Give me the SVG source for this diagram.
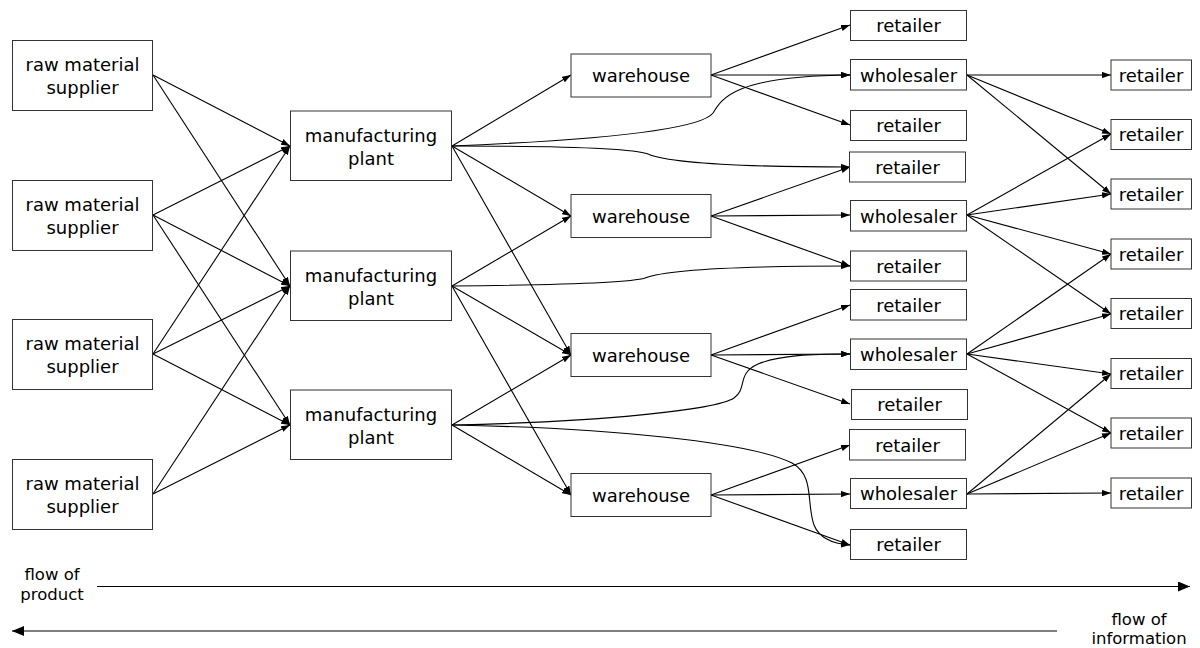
<svg xmlns="http://www.w3.org/2000/svg" width="1200" height="648" viewBox="0 0 1200 648">
  <defs>
    <marker id="arr" viewBox="0 0 10 7" refX="10" refY="3.5" markerWidth="9" markerHeight="6.5" markerUnits="userSpaceOnUse" orient="auto">
      <path d="M0,0 L10,3.5 L0,7 z" fill="#000"/>
    </marker>
    <marker id="arrBig" viewBox="0 0 12 10" refX="12" refY="5" markerWidth="12" markerHeight="10" markerUnits="userSpaceOnUse" orient="auto">
      <path d="M0,0 L12,5 L0,10 z" fill="#000"/>
    </marker>
  </defs>
  <style>
    .box { fill: #fff; stroke: #333; stroke-width: 1; }
    .lbl { font-family: "DejaVu Sans", "Liberation Sans", sans-serif; font-size: 18px; fill: #000; text-anchor: middle; }
    .leg { font-family: "DejaVu Sans", "Liberation Sans", sans-serif; font-size: 16.5px; fill: #000; text-anchor: middle; }
    .edge { fill: none; stroke: #000; stroke-width: 1.1; marker-end: url(#arr); }
    .flow { fill: none; stroke: #000; stroke-width: 1.2; marker-end: url(#arrBig); }
  </style>

  <rect width="1200" height="648" fill="#fff"/>

  <!-- connectors -->
  <g id="connectors">
    <!-- suppliers to plants -->
    <path class="edge" d="M153,75 L290,146"/>
    <path class="edge" d="M153,75 L290,286"/>
    <path class="edge" d="M153,215 L290,146"/>
    <path class="edge" d="M153,215 L290,286"/>
    <path class="edge" d="M153,215 L290,425"/>
    <path class="edge" d="M153,354 L290,146"/>
    <path class="edge" d="M153,354 L290,286"/>
    <path class="edge" d="M153,354 L290,425"/>
    <path class="edge" d="M153,494 L290,286"/>
    <path class="edge" d="M153,494 L290,425"/>

    <!-- plants to warehouses -->
    <path class="edge" d="M452,146 L571,75"/>
    <path class="edge" d="M452,146 L571,216"/>
    <path class="edge" d="M452,146 L571,355"/>
    <path class="edge" d="M452,286 L571,216"/>
    <path class="edge" d="M452,286 L571,355"/>
    <path class="edge" d="M452,286 L571,495"/>
    <path class="edge" d="M452,425 L571,355"/>
    <path class="edge" d="M452,425 L571,495"/>

    <!-- plants directly to wholesalers / retailers -->
    <path class="edge" d="M452,146 C600,140 700,130 713,113 C722,98 735,76 850,75"/>
    <path class="edge" d="M452,146 C560,146 632,148 648,154 C662,160 700,167 850,167"/>
    <path class="edge" d="M452,286 C560,285 630,283 645,278 C660,272 700,266 850,266"/>
    <path class="edge" d="M452,425 C600,422 715,410 734,398 C748,388 736,374 758,364 C780,355 812,354 850,354"/>
    <path class="edge" d="M452,425 C610,428 750,442 792,463 C815,476 806,502 814,525 C820,540 836,544 850,545"/>

    <!-- warehouses to wholesalers / retailers -->
    <path class="edge" d="M711,75 L850,25"/>
    <path class="edge" d="M711,75 L850,75"/>
    <path class="edge" d="M711,75 L850,125"/>
    <path class="edge" d="M711,216 L850,167"/>
    <path class="edge" d="M711,216 L850,215"/>
    <path class="edge" d="M711,216 L850,266"/>
    <path class="edge" d="M711,355 L850,305"/>
    <path class="edge" d="M711,355 L850,354"/>
    <path class="edge" d="M711,355 L850,404"/>
    <path class="edge" d="M711,495 L850,445"/>
    <path class="edge" d="M711,495 L850,494"/>
    <path class="edge" d="M711,495 L850,545"/>

    <!-- wholesalers to retailers -->
    <path class="edge" d="M967,75 L1111,75"/>
    <path class="edge" d="M967,75 L1111,134"/>
    <path class="edge" d="M967,75 L1111,194"/>
    <path class="edge" d="M967,215 L1111,134"/>
    <path class="edge" d="M967,215 L1111,194"/>
    <path class="edge" d="M967,215 L1111,254"/>
    <path class="edge" d="M967,215 L1111,314"/>
    <path class="edge" d="M967,354 L1111,254"/>
    <path class="edge" d="M967,354 L1111,314"/>
    <path class="edge" d="M967,354 L1111,374"/>
    <path class="edge" d="M967,354 L1111,433"/>
    <path class="edge" d="M967,494 L1111,374"/>
    <path class="edge" d="M967,494 L1111,433"/>
    <path class="edge" d="M967,494 L1111,493"/>

    <!-- flow arrows -->
    <path class="flow" d="M97,586.5 L1190,586.5"/>
    <path class="flow" d="M1057,631 L12,631"/>
  </g>

  <!-- raw material suppliers -->
  <g id="supplier1"><rect class="box" x="12.5" y="40.5" width="140" height="70"/><text class="lbl" x="82.5" y="70.5">raw material</text><text class="lbl" x="82.5" y="93.5">supplier</text></g>
  <g id="supplier2"><rect class="box" x="12.5" y="180.5" width="140" height="70"/><text class="lbl" x="82.5" y="210.5">raw material</text><text class="lbl" x="82.5" y="233.5">supplier</text></g>
  <g id="supplier3"><rect class="box" x="12.5" y="319.5" width="140" height="70"/><text class="lbl" x="82.5" y="349.5">raw material</text><text class="lbl" x="82.5" y="372.5">supplier</text></g>
  <g id="supplier4"><rect class="box" x="12.5" y="459.5" width="140" height="70"/><text class="lbl" x="82.5" y="489.5">raw material</text><text class="lbl" x="82.5" y="512.5">supplier</text></g>

  <!-- manufacturing plants -->
  <g id="plant1"><rect class="box" x="290.5" y="111" width="161" height="69.5"/><text class="lbl" x="371" y="141.5">manufacturing</text><text class="lbl" x="371" y="164.5">plant</text></g>
  <g id="plant2"><rect class="box" x="290.5" y="251" width="161" height="69.5"/><text class="lbl" x="371" y="281.5">manufacturing</text><text class="lbl" x="371" y="304.5">plant</text></g>
  <g id="plant3"><rect class="box" x="290.5" y="390" width="161" height="69.5"/><text class="lbl" x="371" y="420.5">manufacturing</text><text class="lbl" x="371" y="443.5">plant</text></g>

  <!-- warehouses -->
  <g id="warehouse1"><rect class="box" x="571" y="54" width="140" height="43"/><text class="lbl" x="641" y="82">warehouse</text></g>
  <g id="warehouse2"><rect class="box" x="571" y="194.5" width="140" height="43"/><text class="lbl" x="641" y="222.5">warehouse</text></g>
  <g id="warehouse3"><rect class="box" x="571" y="333.5" width="140" height="43"/><text class="lbl" x="641" y="361.5">warehouse</text></g>
  <g id="warehouse4"><rect class="box" x="571" y="473.5" width="140" height="43"/><text class="lbl" x="641" y="501.5">warehouse</text></g>

  <!-- wholesalers and retailers served by warehouses -->
  <g id="retailerA1"><rect class="box" x="850.5" y="10.5" width="116" height="30"/><text class="lbl" x="908.5" y="32">retailer</text></g>
  <g id="wholesaler1"><rect class="box" x="850.5" y="59.5" width="116" height="30.5"/><text class="lbl" x="908.5" y="81.5">wholesaler</text></g>
  <g id="retailerA2"><rect class="box" x="850.5" y="110.5" width="116" height="30"/><text class="lbl" x="908.5" y="132">retailer</text></g>
  <g id="retailerA3"><rect class="box" x="849.5" y="152" width="116" height="30"/><text class="lbl" x="907.5" y="173.5">retailer</text></g>
  <g id="wholesaler2"><rect class="box" x="850.5" y="200.5" width="116" height="30.5"/><text class="lbl" x="908.5" y="222.5">wholesaler</text></g>
  <g id="retailerA4"><rect class="box" x="850.5" y="251" width="116" height="30"/><text class="lbl" x="908.5" y="272.5">retailer</text></g>
  <g id="retailerA5"><rect class="box" x="850.5" y="289.5" width="116" height="30.5"/><text class="lbl" x="908.5" y="311.5">retailer</text></g>
  <g id="wholesaler3"><rect class="box" x="850.5" y="339" width="116" height="30.5"/><text class="lbl" x="908.5" y="361">wholesaler</text></g>
  <g id="retailerA6"><rect class="box" x="851.5" y="389.5" width="116" height="30"/><text class="lbl" x="909.5" y="411">retailer</text></g>
  <g id="retailerA7"><rect class="box" x="849.5" y="429.5" width="116" height="30.5"/><text class="lbl" x="907.5" y="451.5">retailer</text></g>
  <g id="wholesaler4"><rect class="box" x="850.5" y="478.5" width="116" height="30"/><text class="lbl" x="908.5" y="500">wholesaler</text></g>
  <g id="retailerA8"><rect class="box" x="850.5" y="529.5" width="116" height="30"/><text class="lbl" x="908.5" y="551">retailer</text></g>

  <!-- retailers served by wholesalers -->
  <g id="retailerB1"><rect class="box" x="1111" y="60" width="80.5" height="30"/><text class="lbl" x="1151" y="81.5">retailer</text></g>
  <g id="retailerB2"><rect class="box" x="1111" y="119.5" width="80.5" height="30"/><text class="lbl" x="1151" y="141">retailer</text></g>
  <g id="retailerB3"><rect class="box" x="1111" y="179" width="80.5" height="30"/><text class="lbl" x="1151" y="200.5">retailer</text></g>
  <g id="retailerB4"><rect class="box" x="1111" y="239" width="80.5" height="30"/><text class="lbl" x="1151" y="260.5">retailer</text></g>
  <g id="retailerB5"><rect class="box" x="1111" y="298.5" width="80.5" height="30"/><text class="lbl" x="1151" y="320">retailer</text></g>
  <g id="retailerB6"><rect class="box" x="1111" y="358.5" width="80.5" height="30"/><text class="lbl" x="1151" y="380">retailer</text></g>
  <g id="retailerB7"><rect class="box" x="1111" y="418" width="80.5" height="30"/><text class="lbl" x="1151" y="439.5">retailer</text></g>
  <g id="retailerB8"><rect class="box" x="1111" y="478" width="80.5" height="30"/><text class="lbl" x="1151" y="499.5">retailer</text></g>

  <!-- flow legends -->
  <g id="legend-product"><text class="leg" x="52" y="580">flow of</text><text class="leg" x="52" y="600">product</text></g>
  <g id="legend-information"><text class="leg" x="1139" y="625">flow of</text><text class="leg" x="1139" y="644">information</text></g>
</svg>
